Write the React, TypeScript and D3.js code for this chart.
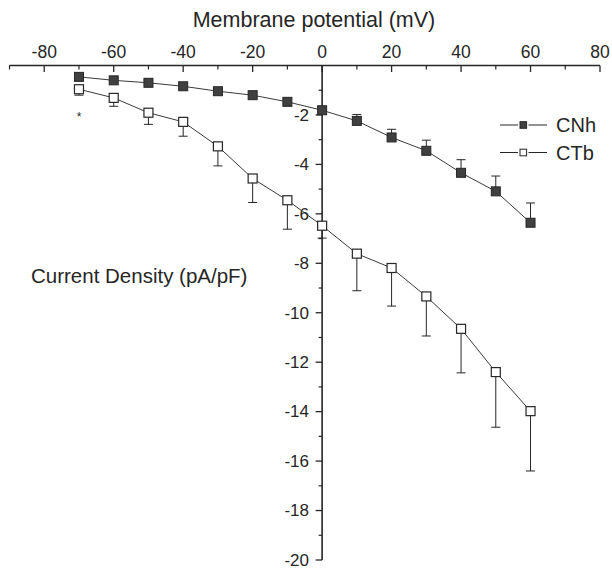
import React from 'react';
import * as d3 from 'd3';

const voltages = [-70, -60, -50, -40, -30, -20, -10, 0, 10, 20, 30, 40, 50, 60];
const cnhMean = [-0.46, -0.6, -0.7, -0.84, -1.04, -1.2, -1.47, -1.81, -2.24, -2.91, -3.45, -4.34, -5.09, -6.36];
const cnhErr = [0.1, 0.1, 0.1, 0.1, 0.1, 0.1, 0.12, 0.15, 0.26, 0.33, 0.43, 0.53, 0.62, 0.8];
const ctbMean = [-0.96, -1.31, -1.91, -2.28, -3.27, -4.57, -5.45, -6.48, -7.61, -8.19, -9.34, -10.65, -12.4, -13.98];
const ctbErr = [0.24, 0.34, 0.47, 0.58, 0.79, 0.97, 1.17, 0.5, 1.5, 1.54, 1.6, 1.78, 2.23, 2.42];

const xMajorTicks = [-80, -60, -40, -20, 0, 20, 40, 60, 80];
const xMinorTicks = [-90, -70, -50, -30, -10, 10, 30, 50, 70];
const yMajorTicks = [-2, -4, -6, -8, -10, -12, -14, -16, -18, -20];
const yMinorTicks = [-1, -3, -5, -7, -9, -11, -13, -15, -17, -19];

const seriesNames = ['CNh', 'CTb'];
const xTitle = 'Membrane potential (mV)';
const yTitle = 'Current Density (pA/pF)';

const FONT = '"Liberation Sans", Arial, Helvetica, sans-serif';
const INK = '#262626';

export default function App() {
  const W = 612;
  const H = 570;
  const x = d3.scaleLinear().domain([-90, 80]).range([9.5, 600]);
  const y = d3.scaleLinear().domain([0, -20]).range([65.5, 560]);
  const axisY = y(0);
  const axisX = x(0);

  const line = d3
    .line<[number, number]>()
    .x((d) => x(d[0]))
    .y((d) => y(d[1]));

  const cnhPts = voltages.map((v, i) => [v, cnhMean[i]] as [number, number]);
  const ctbPts = voltages.map((v, i) => [v, ctbMean[i]] as [number, number]);
  const ms = 9;
  const cap = 4.5;

  return (
    <svg
      width={W}
      height={H}
      viewBox={`0 0 ${W} ${H}`}
      style={{ position: 'absolute', left: 0, top: 0, background: '#fff' }}
      fontFamily={FONT}
    >
      <rect x={0} y={0} width={W} height={H} fill="#fff" />
      {/* Title */}
      <text x={314} y={26.5} fontSize={21.5} textAnchor="middle" fill={INK}>
        {xTitle}
      </text>

      {/* Top X axis */}
      <line x1={x(-90)} x2={x(80)} y1={axisY} y2={axisY} stroke={INK} strokeWidth={1.6} />
      {xMajorTicks.map((t) => (
        <g key={'xM' + t}>
          <line x1={x(t)} x2={x(t)} y1={axisY} y2={axisY + 6.5} stroke={INK} strokeWidth={1.3} />
          <text x={x(t)} y={axisY - 7.5} fontSize={17.5} textAnchor="middle" fill={INK}>
            {t}
          </text>
        </g>
      ))}
      {xMinorTicks.map((t) => (
        <line key={'xm' + t} x1={x(t)} x2={x(t)} y1={axisY} y2={axisY + 4} stroke={INK} strokeWidth={1.2} />
      ))}

      {/* Y axis at x = 0 */}
      <line x1={axisX} x2={axisX} y1={axisY} y2={y(-20)} stroke={INK} strokeWidth={1.6} />
      {yMajorTicks.map((t) => (
        <g key={'yM' + t}>
          <line x1={axisX - 6.5} x2={axisX} y1={y(t)} y2={y(t)} stroke={INK} strokeWidth={1.3} />
          <text x={309} y={y(t)} dy="0.34em" fontSize={17} textAnchor="end" fill={INK}>
            {t}
          </text>
        </g>
      ))}
      {yMinorTicks.map((t) => (
        <line key={'ym' + t} x1={axisX - 3.5} x2={axisX} y1={y(t)} y2={y(t)} stroke={INK} strokeWidth={1.2} />
      ))}

      {/* Y title */}
      <text x={31} y={283} fontSize={20.5} fill={INK}>
        {yTitle}
      </text>

      {/* connecting lines */}
      <path d={line(cnhPts) || ''} fill="none" stroke="#3a3a3a" strokeWidth={1} />
      <path d={line(ctbPts) || ''} fill="none" stroke="#3a3a3a" strokeWidth={1} />

      {/* error bars CNh (upwards) */}
      {voltages.map((v, i) => {
        const top = y(cnhMean[i] + cnhErr[i]);
        const cy = y(cnhMean[i]);
        return (
          <g key={'ecn' + v} stroke={INK} strokeWidth={1}>
            <line x1={x(v)} x2={x(v)} y1={cy} y2={top} />
            <line x1={x(v) - cap} x2={x(v) + cap} y1={top} y2={top} />
          </g>
        );
      })}
      {/* error bars CTb (downwards) */}
      {voltages.map((v, i) => {
        const bot = y(ctbMean[i] - ctbErr[i]);
        const cy = y(ctbMean[i]);
        return (
          <g key={'ect' + v} stroke={INK} strokeWidth={1}>
            <line x1={x(v)} x2={x(v)} y1={cy} y2={bot} />
            <line x1={x(v) - cap} x2={x(v) + cap} y1={bot} y2={bot} />
          </g>
        );
      })}

      {/* markers */}
      {ctbPts.map((p) => (
        <rect
          key={'mct' + p[0]}
          x={x(p[0]) - ms / 2}
          y={y(p[1]) - ms / 2}
          width={ms}
          height={ms}
          fill="#fff"
          stroke={INK}
          strokeWidth={1.2}
        />
      ))}
      {cnhPts.map((p) => (
        <rect
          key={'mcn' + p[0]}
          x={x(p[0]) - ms / 2}
          y={y(p[1]) - ms / 2}
          width={ms}
          height={ms}
          fill="#404040"
          stroke={INK}
          strokeWidth={1}
        />
      ))}

      {/* asterisk */}
      <text x={x(-70)} y={121} fontSize={12} textAnchor="middle" fill={INK}>
        *
      </text>

      {/* Legend */}
      {seriesNames.map((name, i) => {
        const ly = 125 + i * 27.5;
        return (
          <g key={'lg' + name}>
            <line x1={500} x2={518} y1={ly} y2={ly} stroke={INK} strokeWidth={1} />
            <line x1={528.5} x2={547} y1={ly} y2={ly} stroke={INK} strokeWidth={1} />
            <rect
              x={523.3 - 3.3}
              y={ly - 3.3}
              width={6.6}
              height={6.6}
              fill={i === 0 ? '#404040' : '#fff'}
              stroke={INK}
              strokeWidth={1}
            />
            <text x={556} y={ly + 7} fontSize={20} fill={INK}>
              {name}
            </text>
          </g>
        );
      })}
    </svg>
  );
}
